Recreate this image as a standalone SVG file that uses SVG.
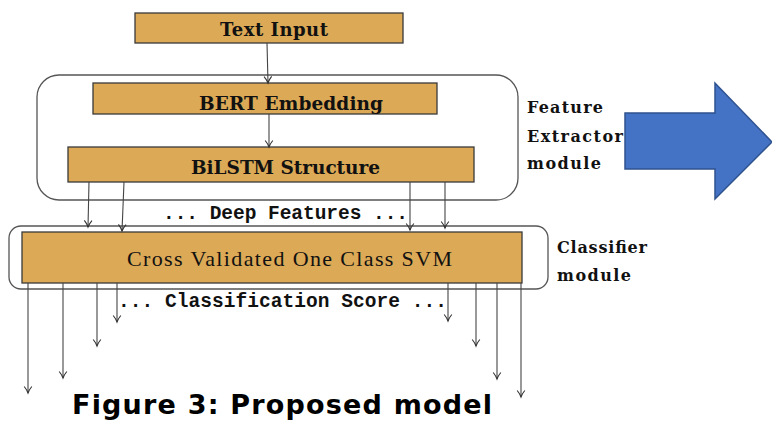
<svg xmlns="http://www.w3.org/2000/svg" width="772" height="422" viewBox="0 0 772 422">
<defs>
<marker id="ah" markerWidth="10" markerHeight="10" refX="8" refY="5" orient="auto" markerUnits="userSpaceOnUse">
<path d="M1.5,1.2 Q5,4 8,5 Q5,6 1.5,8.8" fill="none" stroke="#333" stroke-width="1.1"/>
</marker>
<style>
.box{fill:#DCA956;stroke:#3a3a3a;stroke-width:1.3}
.mod{fill:none;stroke:#555;stroke-width:1.3}
.cm{font-family:"DejaVu Serif","Liberation Serif",serif;font-weight:bold;fill:#111}
.cmr{font-family:"Liberation Serif","DejaVu Serif",serif;fill:#111}
.tt{font-family:"Liberation Mono","DejaVu Sans Mono",monospace;font-weight:bold;font-size:19.5px;fill:#111}
.ln{fill:none;stroke:#444;stroke-width:1.1;marker-end:url(#ah)}
</style>
</defs>
<rect width="772" height="422" fill="#fff"/>

<g id="feature-module">
<rect class="mod" x="37" y="75" width="481" height="125" rx="22"/>
<text class="cm" font-size="16" x="527" y="113" textLength="76">Feature</text>
<text class="cm" font-size="16" x="527" y="142" textLength="96">Extractor</text>
<text class="cm" font-size="16" x="527" y="169" textLength="74">module</text>
</g>
<g id="classifier-module">
<rect class="mod" x="9" y="226" width="539" height="63" rx="12"/>
<text class="cm" font-size="16" x="557" y="253" textLength="90">Classifier</text>
<text class="cm" font-size="16" x="557" y="281" textLength="74">module</text>
</g>

<g id="text-input">
<rect class="box" x="135" y="13" width="268" height="30"/>
<text class="cm" font-size="18" x="220" y="36" textLength="108">Text Input</text>
</g>
<g id="bert">
<rect class="box" x="93" y="83" width="344" height="31"/>
<text class="cm" font-size="18.5" x="199" y="110" textLength="184">BERT Embedding</text>
</g>
<g id="bilstm">
<rect class="box" x="68" y="147" width="406" height="35"/>
<text class="cm" font-size="18.5" x="191" y="174" textLength="189">BiLSTM Structure</text>
</g>
<g id="svm">
<rect class="box" x="22" y="232" width="500" height="51"/>
<text class="cmr" font-size="22" x="127" y="266" textLength="325">Cross Validated One Class SVM</text>
</g>

<g id="labels">
<text class="tt" x="163" y="219" textLength="245">... Deep Features ...</text>
<text class="tt" x="118" y="307" textLength="329">... Classification Score ...</text>
</g>

<g id="connectors">
<path class="ln" d="M267,43 L268,83"/>
<path class="ln" d="M269,114 L269,147"/>
<path class="ln" d="M89,182 L88,227"/>
<path class="ln" d="M124,182 L122,231"/>
<path class="ln" d="M410,182 L410,230"/>
<path class="ln" d="M445,182 L445,228"/>
<path class="ln" d="M28,283 L28,393"/>
<path class="ln" d="M63,283 L63,378"/>
<path class="ln" d="M97,283 L97,346"/>
<path class="ln" d="M117,283 L117,322"/>
<path class="ln" d="M448,283 L448,321"/>
<path class="ln" d="M476,283 L476,346"/>
<path class="ln" d="M497,283 L497,379"/>
<path class="ln" d="M521,283 L521,397"/>
</g>

<g id="big-arrow">
<path d="M625,113 L715,113 L715,83 L772,142 L715,199 L715,169 L625,169 Z" fill="#4472C4" stroke="#2F528F" stroke-width="1.5"/>
</g>

<g id="caption">
<text x="72" y="414" font-family="'DejaVu Sans',Verdana,sans-serif" font-weight="bold" font-size="27" textLength="420" fill="#000">Figure 3: Proposed model</text>
</g>
</svg>
